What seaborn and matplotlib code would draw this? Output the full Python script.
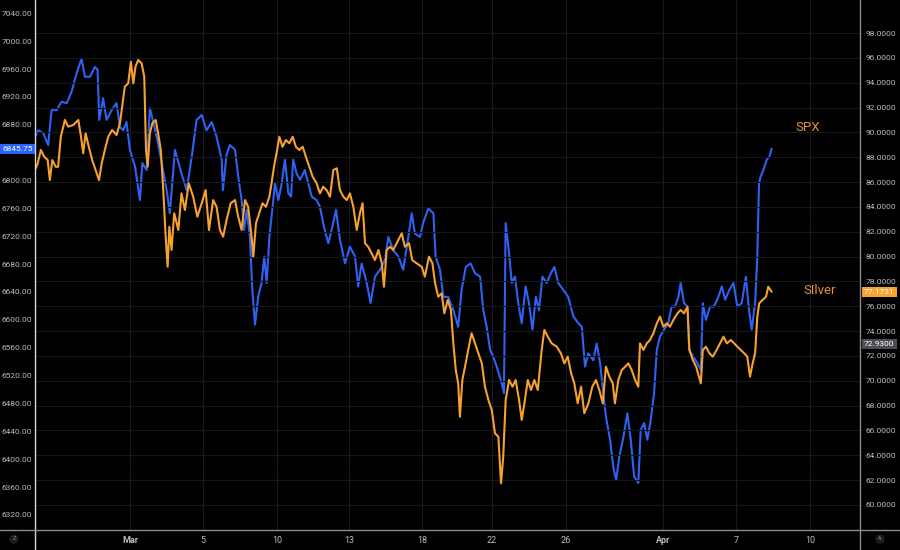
import matplotlib
matplotlib.use("Agg")
import matplotlib.pyplot as plt
import matplotlib.transforms as mtransforms
import pandas as pd
import seaborn as sns

# x = trading-session index (0 = first session of March)
spx_t = [-3.90, -3.77, -3.56, -3.36, -3.22, -3.01, -2.81, -2.60, -2.40, -2.19,
         -1.99, -1.85, -1.64, -1.44, -1.33, -1.26, -1.10, -0.96, -0.75, -0.55,
         -0.41, -0.28, -0.14, 0.00, 0.21, 0.41, 0.51, 0.69, 0.82, 0.96,
         1.16, 1.51, 1.64, 1.85, 2.12, 2.33, 2.54, 2.74, 2.95, 3.15,
         3.36, 3.56, 3.77, 3.82,
         3.97, 4.11, 4.32, 4.45, 4.59, 4.69, 4.80, 4.93, 5.03, 5.14,
         5.27, 5.41, 5.52, 5.62, 5.73, 5.85, 5.96, 6.10, 6.24, 6.37,
         6.51, 6.62, 6.71, 6.85, 6.99, 7.19, 7.33, 7.47, 7.67, 7.81,
         7.97, 8.15, 8.29, 8.47, 8.63, 8.84, 9.04, 9.25, 9.38, 9.52,
         9.73, 9.89, 10.07, 10.28, 10.48, 10.62, 10.82, 11.03, 11.23,
         11.44, 11.58, 11.71, 11.92, 12.05, 12.26, 12.47, 12.56, 12.74, 12.88,
         13.08, 13.29, 13.49, 13.63, 13.80, 14.00, 14.18, 14.39, 14.52, 14.66,
         14.80, 14.93, 15.07, 15.28, 15.37, 15.44, 15.58, 15.69, 15.82, 15.96,
         16.10, 16.26, 16.40, 16.54, 16.68, 16.81, 16.95, 17.13, 17.30, 17.44,
         17.60, 17.81, 18.01, 18.22, 18.43, 18.57, 18.70, 18.84, 19.04,
         19.18, 19.32, 19.45, 19.56, 19.73, 19.86, 19.98, 20.11, 20.28, 20.44,
         20.58, 20.72, 20.89, 20.99, 21.13, 21.26, 21.40, 21.54, 21.65, 21.78,
         21.95, 22.12, 22.26, 22.40, 22.54, 22.63, 22.77, 22.91, 22.98, 23.15,
         23.32, 23.46, 23.54, 23.67, 23.84, 24.00, 24.18, 24.32, 24.46, 24.63,
         24.80, 24.96, 25.14, 25.31, 25.44, 25.55, 25.69, 25.78, 25.85, 25.92,
         26.03, 26.17, 26.28, 26.37]
spx = [6863, 6872, 6868, 6851, 6901, 6901, 6913, 6911, 6927, 6954,
       6975, 6949, 6949, 6963, 6959, 6887, 6918, 6887, 6901, 6911,
       6877, 6872, 6884, 6844, 6820, 6772, 6825, 6815, 6904, 6884,
       6853, 6786, 6753, 6844, 6810, 6786, 6834, 6887, 6894, 6872,
       6884, 6863, 6830, 6786,
       6837, 6851, 6844, 6806, 6772, 6729, 6758, 6719, 6643, 6593,
       6633, 6653, 6691, 6653, 6719, 6758, 6796, 6772, 6796, 6830,
       6782, 6777, 6830, 6810, 6801, 6815, 6796, 6777, 6772, 6762,
       6734, 6710, 6729, 6758, 6715, 6681, 6705, 6691, 6648, 6681,
       6653, 6624, 6662, 6672, 6686, 6719, 6700, 6691, 6672,
       6719, 6753, 6724, 6719, 6739, 6760, 6753, 6691, 6672, 6633,
       6633, 6614, 6590, 6643, 6676, 6681, 6667, 6662, 6614, 6590,
       6557, 6547, 6533, 6509, 6495, 6739, 6696, 6653, 6662, 6624,
       6595, 6648, 6624, 6586, 6633, 6614, 6662, 6653, 6667, 6676,
       6653, 6643, 6633, 6605, 6595, 6590, 6533, 6552, 6542,
       6566, 6538, 6495, 6461, 6428, 6389, 6370, 6404, 6432, 6466,
       6428, 6375, 6366, 6442, 6452, 6428, 6456, 6495, 6557, 6576,
       6586, 6595, 6619, 6619, 6633, 6653, 6624, 6619, 6557, 6547,
       6538, 6528, 6624, 6600, 6619, 6619, 6633, 6648, 6629, 6643,
       6653, 6619, 6624, 6662, 6614, 6586, 6624, 6691, 6796, 6806,
       6815, 6830, 6834, 6845.75]

silver_t = [-3.90, -3.79, -3.66, -3.52, -3.38, -3.29, -3.19, -3.05, -2.95, -2.84,
            -2.67, -2.54, -2.33, -2.12, -2.01, -1.92, -1.82, -1.69, -1.55, -1.41,
            -1.27, -1.16, -1.03, -0.89, -0.73, -0.55, -0.41, -0.32, -0.21, -0.07,
            0.04, 0.14, 0.23, 0.34, 0.48, 0.59, 0.66, 0.73, 0.82, 0.92,
            1.06, 1.16, 1.27, 1.37,
            1.47, 1.55, 1.62, 1.71, 1.82, 1.99, 2.12, 2.26, 2.42, 2.60,
            2.77, 2.95, 3.11, 3.25, 3.42, 3.56, 3.70, 3.83, 3.97, 4.14,
            4.32, 4.45, 4.59, 4.73, 4.86, 5.00, 5.07, 5.18, 5.31, 5.45,
            5.59, 5.73, 5.82, 5.92, 6.05, 6.14, 6.27, 6.41, 6.55, 6.69,
            6.82, 6.96, 7.10, 7.23, 7.37, 7.51, 7.67, 7.81, 7.94,
            8.08, 8.22, 8.36, 8.50, 8.63, 8.77, 8.91, 9.04, 9.18, 9.32,
            9.45, 9.56, 9.66, 9.79, 9.93, 10.07, 10.21, 10.35, 10.44, 10.55,
            10.69, 10.82, 10.96, 11.17, 11.30, 11.47, 11.60, 11.78, 11.99, 12.12,
            12.29, 12.43, 12.54, 12.67, 12.81, 12.92, 13.06, 13.19, 13.29, 13.39,
            13.49, 13.56, 13.66, 13.77, 13.90, 14.04, 14.18, 14.32, 14.46, 14.59,
            14.73, 14.87, 15.00, 15.14, 15.25, 15.34, 15.44, 15.58, 15.72, 15.85,
            15.99, 16.10, 16.21, 16.35, 16.48, 16.62, 16.76, 16.92, 17.03, 17.17,
            17.33, 17.54, 17.71, 17.85, 17.99, 18.13, 18.26, 18.40, 18.54, 18.67,
            18.84, 19.00, 19.15, 19.29, 19.43, 19.56, 19.70, 19.84, 19.93, 20.07,
            20.21, 20.35, 20.48, 20.62, 20.76, 20.89, 20.96, 21.10, 21.24, 21.37,
            21.51, 21.65, 21.78, 21.92, 22.06, 22.19, 22.33, 22.50, 22.63, 22.77,
            22.91, 22.99, 23.13, 23.27, 23.38, 23.46, 23.54, 23.67, 23.81, 23.95,
            24.11, 24.25, 24.39, 24.53, 24.69, 24.83, 24.96, 25.10, 25.24, 25.37,
            25.48, 25.59, 25.69, 25.78, 25.86, 26.00, 26.14, 26.23, 26.37]
silver = [86.97, 87.51, 88.58, 88.04, 87.77, 86.16, 87.77, 87.23, 87.23, 89.65,
          91.00, 90.46, 90.59, 91.00, 89.65, 88.31, 89.92, 88.84, 87.77, 86.97,
          86.16, 87.51, 88.58, 89.65, 90.19, 89.79, 90.73, 92.07, 93.68, 93.95,
          95.69, 93.95, 95.29, 95.83, 95.56, 94.48, 88.58, 87.23, 89.92, 90.73,
          91.00, 89.92, 88.58, 85.36,
          81.60, 79.18, 82.40, 80.53, 83.48, 82.14, 85.09, 83.75, 85.90, 84.82,
          83.21, 84.29, 85.36, 82.14, 84.55, 84.01, 82.14, 81.60, 82.94, 84.29,
          84.55, 83.21, 82.14, 84.55, 84.01, 81.60, 79.99, 82.68, 83.48, 84.29,
          84.01, 84.82, 85.90, 87.23, 88.58, 89.65, 88.84, 89.38, 89.12, 89.65,
          88.84, 88.58, 88.84, 88.04, 87.23, 86.43, 85.90, 85.09, 85.62,
          85.36, 84.82, 86.97, 87.11, 85.36, 84.82, 84.55, 85.09, 84.01, 82.14,
          83.48, 84.29, 81.07, 80.79, 80.26, 79.72, 80.53, 79.46, 77.57, 80.53,
          80.79, 80.53, 81.07, 81.87, 80.79, 81.07, 79.72, 79.46, 79.18, 78.38,
          79.99, 79.46, 77.85, 76.77, 77.04, 75.43, 76.50, 75.70, 73.01, 70.86,
          69.79, 67.10, 70.06, 71.13, 72.48, 73.82, 73.01, 72.21, 71.40, 69.52,
          68.45, 67.64, 65.77, 65.49, 61.74, 63.88, 68.45, 70.06, 69.52, 70.06,
          68.45, 66.84, 68.18, 70.06, 69.25, 70.06, 69.25, 72.48, 74.09, 73.55,
          73.01, 72.74, 72.21, 71.40, 71.94, 70.60, 69.79, 68.18, 69.52, 67.38,
          68.18, 69.52, 70.06, 69.25, 68.18, 71.13, 70.33, 69.79, 68.18, 70.06,
          70.86, 71.13, 71.40, 70.86, 70.06, 69.52, 73.01, 72.48, 73.01, 73.28,
          73.82, 74.62, 75.16, 74.35, 74.62, 74.35, 74.89, 75.43, 75.70, 75.43,
          75.96, 72.48, 71.67, 71.13, 70.33, 69.79, 72.48, 72.74, 72.21, 71.94,
          72.48, 73.01, 73.55, 73.01, 73.28, 73.01, 72.74, 72.48, 72.21, 71.94,
          70.33, 71.40, 72.21, 75.16, 76.24, 76.50, 76.77, 77.57, 77.17]

tick_pos = [0, 3, 6.04, 9, 12, 14.88, 17.92, 21.91, 24.91, 27.95]
tick_lbl = ["Mar", "5", "10", "13", "18", "22", "26", "Apr", "7", "10"]
spx_ticks = list(range(6320, 7041, 40))
silver_ticks = list(range(60, 99, 2))

spx_last = 6845.75
silver_last = 77.1731
silver_prev = 72.93

BLUE = "#2e62f5"
ORANGE = "#f7a12f"
TXT = "#b9bcc4"
FS = 6.0

sns.set_theme(style="dark")
plt.rcParams["font.family"] = ["Roboto", "DejaVu Sans"]

df_spx = pd.DataFrame({"t": spx_t, "v": spx})
df_ag = pd.DataFrame({"t": silver_t, "v": silver})

fig = plt.figure(figsize=(9, 5.5), dpi=100, facecolor="black")
ax = fig.add_axes([35 / 900, 20 / 550, 825 / 900, 530 / 550])
ax2 = ax.twinx()
for a in (ax, ax2):
    a.set_facecolor("black")

sns.lineplot(data=df_spx, x="t", y="v", ax=ax, color=BLUE, linewidth=1.5,
             estimator=None, sort=False)
sns.lineplot(data=df_ag, x="t", y="v", ax=ax2, color=ORANGE, linewidth=1.5,
             estimator=None, sort=False)

ax.set_xlim(-3.9, 30.0)
ax.set_ylim(6298.4, 7059.1)
ax2.set_ylim(57.98, 100.66)

ax.set_xlabel("")
ax.set_ylabel("")
ax2.set_ylabel("")

ax.set_xticks(tick_pos, tick_lbl)
# the 6840 label sits under the last-price tag, as on the reference
ax.set_yticks(spx_ticks, ["" if v == 6840 else f"{v:.2f}" for v in spx_ticks])
ax2.set_yticks(silver_ticks, [f"{v:.4f}" for v in silver_ticks])

ax.tick_params(axis="x", length=0, pad=4, labelsize=6.5, colors=TXT)
ax.tick_params(axis="y", length=0, pad=2, labelsize=FS, colors=TXT)
ax2.tick_params(axis="y", length=0, pad=4, labelsize=FS, colors=TXT)
for lab in ax.get_xticklabels():
    if lab.get_text() in ("Mar", "Apr"):
        lab.set_fontweight("bold")

ax.grid(True, axis="x", color="#1b1b1b", linewidth=0.8)
ax.grid(False, axis="y")
ax2.grid(True, axis="y", color="#161616", linewidth=0.8)
ax2.grid(False, axis="x")

for a in (ax, ax2):
    for s in a.spines.values():
        s.set_visible(False)

# axis frame lines of the chart panel
fig.add_artist(plt.Line2D([35 / 900] * 2, [0, 1], transform=fig.transFigure,
                          color="#d6d8de", lw=1.0))
fig.add_artist(plt.Line2D([860 / 900] * 2, [0, 1], transform=fig.transFigure,
                          color="#8a8c92", lw=1.0))
fig.add_artist(plt.Line2D([0, 1], [20 / 550] * 2, transform=fig.transFigure,
                          color="#8a8c92", lw=1.0))

# last-price tags on the scales
tl = mtransforms.blended_transform_factory(ax.transAxes, ax.transData)
ax.text(-0.003, spx_last, f"{spx_last:.2f}", transform=tl, ha="right",
        va="center", fontsize=FS, color="white", clip_on=False,
        bbox=dict(boxstyle="square,pad=0.25", fc="#2962ff", ec="none"))
tr = mtransforms.blended_transform_factory(ax2.transAxes, ax2.transData)
ax2.text(1.005, silver_last, f"{silver_last:.4f}", transform=tr, ha="left",
         va="center", fontsize=FS, color="white", clip_on=False,
         bbox=dict(boxstyle="square,pad=0.25", fc="#f7a12f", ec="none"))
ax2.text(1.005, silver_prev, f"{silver_prev:.4f}", transform=tr, ha="left",
         va="center", fontsize=FS, color="white", clip_on=False,
         bbox=dict(boxstyle="square,pad=0.25", fc="#4c4e55", ec="none"))

# series names
ax2.text(0.937, 0.760, "SPX", transform=ax2.transAxes, ha="center",
         va="center", fontsize=9.5, color="#e39240")
ax2.text(0.9515, 0.451, "SIlver", transform=ax2.transAxes, ha="center",
         va="center", fontsize=9.5, color="#e39240")

# small corner buttons
fig.text(14 / 900, 11 / 550, "Z", ha="center", va="center", fontsize=4,
         color="#8a8c92",
         bbox=dict(boxstyle="circle,pad=0.4", fc="#1c1c1c", ec="none"))
fig.text(880 / 900, 11 / 550, "A", ha="center", va="center", fontsize=4,
         color="#8a8c92",
         bbox=dict(boxstyle="circle,pad=0.4", fc="#1c1c1c", ec="none"))

fig.savefig("out.png", dpi=100, facecolor="black")
